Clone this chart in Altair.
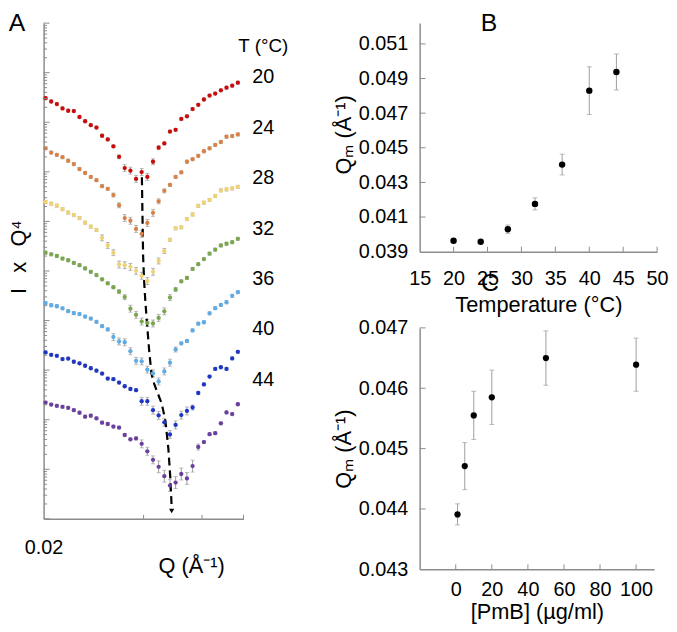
import altair as alt
import pandas as pd

FONT = "Liberation Sans"
AXC = "#8c8c8c"
ERRC = "#9e9e9e"

# ---------------- Panel A data ----------------
Q_A = [0.02027, 0.02108, 0.02192, 0.02280, 0.02371, 0.02466, 0.02565, 0.02667,
       0.02774, 0.02885, 0.03000, 0.03120, 0.03245, 0.03375, 0.03510, 0.03651,
       0.03797, 0.03948, 0.04106, 0.04271, 0.04441, 0.04619, 0.04804, 0.04996,
       0.05196, 0.05404, 0.05620, 0.05845, 0.06079, 0.06322, 0.06575, 0.06838,
       0.07111, 0.07396, 0.07692]
T_A = ["20", "24", "28", "32", "36", "40", "44"]
COL_A = ["#cc0a0a", "#d8824a", "#f0d274", "#7aa64f", "#5eabe6", "#1f36c4", "#6a3f9e"]

# log10 of I x Q^4 (curves offset by about one decade each)
LOG_20 = [8.485, 8.419, 8.366, 8.280, 8.232, 8.226, 8.106, 8.021, 7.941, 7.893,
          7.728, 7.654, 7.514, 7.303, 7.076, 7.024, 6.857, 6.996, 6.897, 7.204,
          7.488, 7.574, 7.813, 7.847, 8.067, 8.120, 8.266, 8.352, 8.459, 8.539,
          8.579, 8.645, 8.698, 8.738, 8.798]
LOG_24 = [7.475, 7.389, 7.343, 7.295, 7.224, 7.156, 7.056, 6.976, 6.897, 6.831,
          6.711, 6.657, 6.532, 6.326, 6.067, 6.013, 5.848, 5.748, 5.968, 6.173,
          6.406, 6.617, 6.737, 6.897, 6.990, 7.204, 7.255, 7.323, 7.415, 7.475,
          7.542, 7.602, 7.708, 7.722, 7.754]
LOG_28 = [6.392, 6.358, 6.318, 6.247, 6.179, 6.127, 6.067, 5.974, 5.894, 5.828,
          5.669, 5.515, 5.370, 5.131, 5.117, 5.083, 5.003, 4.903, 4.798, 4.983,
          5.202, 5.402, 5.629, 5.860, 5.880, 6.047, 6.139, 6.313, 6.378, 6.432,
          6.512, 6.626, 6.645, 6.665, 6.697]
LOG_32 = [5.370, 5.336, 5.302, 5.250, 5.216, 5.162, 5.117, 5.051, 4.983, 4.917,
          4.832, 4.752, 4.672, 4.584, 4.473, 4.240, 4.116, 3.980, 3.951, 3.941,
          4.054, 4.186, 4.463, 4.628, 4.792, 4.861, 5.041, 5.137, 5.240, 5.350,
          5.430, 5.515, 5.549, 5.581, 5.649]
LOG_36 = [4.353, 4.309, 4.289, 4.246, 4.190, 4.150, 4.130, 4.080, 4.040, 3.974,
          3.887, 3.821, 3.668, 3.578, 3.562, 3.382, 3.187, 3.177, 3.010, 2.934,
          2.771, 2.974, 3.151, 3.416, 3.540, 3.588, 3.801, 3.937, 3.966, 4.146,
          4.250, 4.315, 4.369, 4.499, 4.572]
LOG_40 = [3.357, 3.309, 3.289, 3.223, 3.233, 3.169, 3.137, 3.089, 3.038, 2.990,
          2.930, 2.830, 2.818, 2.749, 2.675, 2.619, 2.595, 2.372, 2.372, 2.193,
          2.087, 1.947, 1.702, 1.894, 2.093, 2.177, 2.246, 2.539, 2.711, 2.870,
          3.024, 3.058, 3.024, 3.237, 3.369]
LOG_44 = [2.346, 2.306, 2.280, 2.260, 2.240, 2.193, 2.141, 2.061, 2.081, 2.027,
          1.941, 1.913, 1.862, 1.842, 1.692, 1.605, 1.622, 1.513, 1.363, 1.190,
          1.050, 0.861, 0.672, 0.732, 0.905, 0.815, 1.064, 1.449, 1.549, 1.708,
          1.728, 1.927, 2.147, 2.113, 2.312]

# error half-widths, in decades
ERR_20 = [0.03, 0.03, 0.03, 0.03, 0.03, 0.03, 0.03, 0.03, 0.03, 0.03, 0.03, 0.03,
          0.03, 0.04, 0.07, 0.07, 0.07, 0.07, 0.07, 0.06, 0.04, 0.03, 0.03, 0.03,
          0.03, 0.03, 0.03, 0.03, 0.03, 0.03, 0.03, 0.03, 0.03, 0.03, 0.03]
ERR_24 = [0.03, 0.03, 0.03, 0.03, 0.03, 0.03, 0.03, 0.03, 0.03, 0.03, 0.03, 0.03,
          0.04, 0.05, 0.07, 0.07, 0.07, 0.07, 0.07, 0.07, 0.05, 0.04, 0.03, 0.03,
          0.03, 0.03, 0.03, 0.03, 0.03, 0.03, 0.03, 0.03, 0.03, 0.03, 0.03]
ERR_28 = [0.03, 0.03, 0.03, 0.03, 0.03, 0.03, 0.03, 0.03, 0.03, 0.03, 0.06, 0.06,
          0.06, 0.07, 0.07, 0.07, 0.07, 0.07, 0.07, 0.07, 0.06, 0.05, 0.03, 0.03,
          0.03, 0.03, 0.03, 0.03, 0.03, 0.03, 0.03, 0.03, 0.03, 0.03, 0.03]
ERR_32 = [0.03, 0.03, 0.03, 0.03, 0.03, 0.03, 0.03, 0.03, 0.03, 0.03, 0.03, 0.03,
          0.03, 0.04, 0.05, 0.07, 0.07, 0.07, 0.07, 0.07, 0.07, 0.07, 0.06, 0.04,
          0.03, 0.03, 0.03, 0.03, 0.03, 0.03, 0.03, 0.03, 0.03, 0.03, 0.03]
ERR_36 = [0.03, 0.03, 0.03, 0.03, 0.03, 0.03, 0.03, 0.03, 0.03, 0.03, 0.03, 0.03,
          0.07, 0.07, 0.07, 0.07, 0.07, 0.07, 0.07, 0.07, 0.07, 0.07, 0.07, 0.05,
          0.03, 0.03, 0.03, 0.03, 0.03, 0.03, 0.03, 0.03, 0.03, 0.03, 0.03]
ERR_40 = [0.03, 0.03, 0.03, 0.03, 0.03, 0.03, 0.03, 0.03, 0.03, 0.03, 0.03, 0.03,
          0.03, 0.03, 0.03, 0.03, 0.03, 0.08, 0.08, 0.08, 0.08, 0.08, 0.08, 0.08,
          0.08, 0.08, 0.05, 0.03, 0.03, 0.03, 0.03, 0.03, 0.03, 0.03, 0.03]
ERR_44 = [0.03, 0.03, 0.03, 0.03, 0.03, 0.03, 0.03, 0.03, 0.03, 0.03, 0.03, 0.03,
          0.03, 0.03, 0.03, 0.03, 0.03, 0.08, 0.08, 0.08, 0.12, 0.12, 0.12, 0.12,
          0.12, 0.12, 0.12, 0.06, 0.03, 0.03, 0.03, 0.03, 0.03, 0.03, 0.03]

LOGS = [LOG_20, LOG_24, LOG_28, LOG_32, LOG_36, LOG_40, LOG_44]
ERRS = [ERR_20, ERR_24, ERR_28, ERR_32, ERR_36, ERR_40, ERR_44]

# temperature labels at the right side (decades)
LABEL_LOG = [8.904, 7.887, 6.871, 5.854, 4.838, 3.821, 2.805]

# dashed guide line through the minima
DASH_Q = [0.03954, 0.03987, 0.04014, 0.04047, 0.04092, 0.04160, 0.04226,
          0.04314, 0.04536, 0.04652, 0.04749, 0.04815, 0.04858]
DASH_LOG = [6.891, 5.316, 4.818, 4.419, 3.980, 3.382, 2.924,
            2.705, 2.326, 1.987, 1.429, 0.831, 0.273]
ARROW_Q = [0.04860]
ARROW_LOG = [0.16]

# ---------------- Panel B data ----------------
T_B = [20, 24, 28, 32, 36, 40, 44]
QM_B = [0.03963, 0.03957, 0.04030, 0.04176, 0.04403, 0.04830, 0.04938]
ERR_B = [0.00012, 0.00006, 0.00024, 0.00035, 0.00060, 0.00138, 0.00104]

# ---------------- Panel C data ----------------
PMB_C = [1, 5, 10, 20, 50, 100]
QM_C = [0.04391, 0.04471, 0.04555, 0.04585, 0.04650, 0.04639]
ERR_C = [0.000175, 0.00039, 0.00040, 0.00045, 0.00045, 0.00044]

# ================= panel A =================
rows = []
for t, logs, errs in zip(T_A, LOGS, ERRS):
    for q, v, e in zip(Q_A, logs, errs):
        rows.append({"q": q, "temp": t, "iq4": 10 ** v,
                     "lo": 10 ** (v - e), "hi": 10 ** (v + e)})
dfA = pd.DataFrame(rows)

WA, HA = 202, 501
xsA = alt.Scale(type="log", domain=[0.02, 0.08], nice=False)
ysA = alt.Scale(type="log", domain=[1, 1e10], nice=False)

axAx = alt.Axis(values=[0.02, 0.04, 0.06, 0.08], labelExpr="datum.index == 0 ? '0.02' : ''",
                ticks=False, tickSize=0, labelPadding=19, labelFontSize=20, labelFlush=False,
                labelOverlap=False, title="Q (Å⁻¹)", titleFontSize=22, titleX=149, titleY=54,
                titleBaseline="alphabetic", titleAlign="center", grid=False)
axAy = alt.Axis(ticks=False, labels=False, tickSize=0,
                title="I\u2002\u2009x\u2002\u2009Q⁴", titleFontSize=22,
                titleAngle=270, titleX=-18, titleY=236, titleAlign="center",
                titleBaseline="alphabetic", grid=False)


def XA(f):
    return alt.X(f, scale=xsA, axis=axAx)


def YA(f):
    return alt.Y(f, scale=ysA, axis=axAy)


baseA = alt.Chart(dfA)
errA = baseA.mark_rule(color=ERRC, strokeWidth=1).encode(x=XA("q:Q"), y=YA("lo:Q"), y2="hi:Q")
capLoA = baseA.mark_tick(color=ERRC, thickness=1, size=4, orient="horizontal").encode(
    x=XA("q:Q"), y=YA("lo:Q"))
capHiA = baseA.mark_tick(color=ERRC, thickness=1, size=4, orient="horizontal").encode(
    x=XA("q:Q"), y=YA("hi:Q"))
ptsA = baseA.mark_circle(size=19, opacity=1).encode(
    x=XA("q:Q"), y=YA("iq4:Q"),
    color=alt.Color("temp:N", scale=alt.Scale(domain=T_A, range=COL_A), legend=None))

dfDash = pd.DataFrame({"q": DASH_Q, "iq4": [10 ** v for v in DASH_LOG],
                       "i": list(range(len(DASH_Q)))})
dashA = alt.Chart(dfDash).mark_line(color="black", strokeWidth=2.2, strokeDash=[8, 5]).encode(
    x=XA("q:Q"), y=YA("iq4:Q"), order="i:Q")
dfArrow = pd.DataFrame({"q": ARROW_Q, "iq4": [10 ** v for v in ARROW_LOG]})
arrowA = alt.Chart(dfArrow).mark_point(shape="triangle-down", filled=True, color="black",
                                       size=28, opacity=1).encode(x=XA("q:Q"), y=YA("iq4:Q"))

dfLab = pd.DataFrame({"t": T_A, "iq4": [10 ** v for v in LABEL_LOG]})
labA = alt.Chart(dfLab).mark_text(fontSize=20, align="center", baseline="middle",
                                  color="black").encode(
    x=alt.value(222), y=YA("iq4:Q"), text="t:N")
headA = alt.Chart(pd.DataFrame({"t": ["T (°C)"]})).mark_text(
    fontSize=19, align="center", baseline="middle", color="black").encode(
    x=alt.value(222), y=alt.value(23), text="t:N")
panA = alt.Chart(pd.DataFrame({"t": ["A"]})).mark_text(
    fontSize=25, align="center", baseline="top", color="black").encode(
    x=alt.value(-27), y=alt.value(-12), text="t:N")

majA = pd.DataFrame({"iq4": [10.0 ** n for n in range(0, 11)]})
minA = pd.DataFrame({"iq4": [k * 10.0 ** n for n in range(0, 10) for k in range(2, 10)]})
tickMajA = alt.Chart(majA).mark_rule(color=AXC, strokeWidth=1).encode(
    y=YA("iq4:Q"), x=alt.value(0), x2=alt.value(6))
tickMinA = alt.Chart(minA).mark_rule(color=AXC, strokeWidth=1).encode(
    y=YA("iq4:Q"), x=alt.value(0), x2=alt.value(3.5))
xtA = pd.DataFrame({"q": [0.04, 0.06, 0.08]})
tickXA = alt.Chart(xtA).mark_rule(color=AXC, strokeWidth=1).encode(
    x=XA("q:Q"), y=alt.value(HA), y2=alt.value(HA - 4))

chartA = alt.layer(errA, capLoA, capHiA, dashA, ptsA, arrowA, labA, headA, panA,
                   tickMajA, tickMinA, tickXA).properties(width=WA, height=HA)

# ================= panel B =================
dfB = pd.DataFrame({"t": T_B, "qm": QM_B,
                    "lo": [m - e for m, e in zip(QM_B, ERR_B)],
                    "hi": [m + e for m, e in zip(QM_B, ERR_B)]})
WB, HB = 240, 231
xsB = alt.Scale(domain=[15, 50], nice=False)
ysB = alt.Scale(domain=[0.039, 0.0522], nice=False, zero=False)
axBx = alt.Axis(values=[15, 20, 25, 30, 35, 40, 45, 50], ticks=False, tickSize=0,
                labelPadding=17, labelFontSize=20, labelFlush=False, labelOverlap=False,
                title="Temperature (°C)", titleFontSize=22, titleX=WB / 2, titleY=60,
                titleBaseline="alphabetic", titleAlign="center", grid=False)
axBy = alt.Axis(values=[0.039, 0.041, 0.043, 0.045, 0.047, 0.049, 0.051], format=".3f",
                ticks=False, tickSize=0, labelPadding=12, labelFontSize=20, labelOverlap=False,
                title="Qₘ (Å⁻¹)", titleFontSize=22, titleAngle=270, titleX=-70,
                titleY=HB / 2 - 3, titleAlign="center", titleBaseline="alphabetic", grid=False)


def XB(f):
    return alt.X(f, scale=xsB, axis=axBx)


def YB(f):
    return alt.Y(f, scale=ysB, axis=axBy)


baseB = alt.Chart(dfB)
errB = baseB.mark_rule(color=ERRC, strokeWidth=1).encode(x=XB("t:Q"), y=YB("lo:Q"), y2="hi:Q")
capLoB = baseB.mark_tick(color=ERRC, thickness=1, size=5, orient="horizontal").encode(
    x=XB("t:Q"), y=YB("lo:Q"))
capHiB = baseB.mark_tick(color=ERRC, thickness=1, size=5, orient="horizontal").encode(
    x=XB("t:Q"), y=YB("hi:Q"))
ptsB = baseB.mark_circle(size=42, color="black", opacity=1).encode(x=XB("t:Q"), y=YB("qm:Q"))
ytB = pd.DataFrame({"qm": [0.041, 0.043, 0.045, 0.047, 0.049, 0.051]})
tickYB = alt.Chart(ytB).mark_rule(color=AXC, strokeWidth=1).encode(
    y=YB("qm:Q"), x=alt.value(0), x2=alt.value(6))
xtB = pd.DataFrame({"t": [20, 25, 30, 35, 40, 45, 50]})
tickXB = alt.Chart(xtB).mark_rule(color=AXC, strokeWidth=1).encode(
    x=XB("t:Q"), y=alt.value(HB), y2=alt.value(HB - 5))
panB = alt.Chart(pd.DataFrame({"t": ["B"]})).mark_text(
    fontSize=25, align="center", baseline="top", color="black").encode(
    x=alt.value(70), y=alt.value(-12), text="t:N")
chartB = alt.layer(errB, capLoB, capHiB, ptsB, tickYB, tickXB, panB).properties(
    width=WB, height=HB)

# ================= panel C =================
dfC = pd.DataFrame({"p": PMB_C, "qm": QM_C,
                    "lo": [m - e for m, e in zip(QM_C, ERR_C)],
                    "hi": [m + e for m, e in zip(QM_C, ERR_C)]})
WC, HC = 237, 244
xsC = alt.Scale(domain=[-20, 110], nice=False, zero=False)
ysC = alt.Scale(domain=[0.043, 0.047], nice=False, zero=False)
axCx = alt.Axis(values=[0, 20, 40, 60, 80, 100], ticks=False, tickSize=0,
                labelPadding=10, labelFontSize=20, labelFlush=False, labelOverlap=False,
                title="[PmB] (µg/ml)", titleFontSize=22, titleX=WC / 2, titleY=50,
                titleBaseline="alphabetic", titleAlign="center", grid=False)
axCy = alt.Axis(values=[0.043, 0.044, 0.045, 0.046, 0.047], format=".3f",
                ticks=False, tickSize=0, labelPadding=12, labelFontSize=20, labelOverlap=False,
                title="Qₘ (Å⁻¹)", titleFontSize=22, titleAngle=270, titleX=-70,
                titleY=HC / 2, titleAlign="center", titleBaseline="alphabetic", grid=False)


def XC(f):
    return alt.X(f, scale=xsC, axis=axCx)


def YC(f):
    return alt.Y(f, scale=ysC, axis=axCy)


baseC = alt.Chart(dfC)
errC = baseC.mark_rule(color=ERRC, strokeWidth=1).encode(x=XC("p:Q"), y=YC("lo:Q"), y2="hi:Q")
capLoC = baseC.mark_tick(color=ERRC, thickness=1, size=5, orient="horizontal").encode(
    x=XC("p:Q"), y=YC("lo:Q"))
capHiC = baseC.mark_tick(color=ERRC, thickness=1, size=5, orient="horizontal").encode(
    x=XC("p:Q"), y=YC("hi:Q"))
ptsC = baseC.mark_circle(size=40, color="black", opacity=1).encode(x=XC("p:Q"), y=YC("qm:Q"))
ytC = pd.DataFrame({"qm": [0.044, 0.045, 0.046, 0.047]})
tickYC = alt.Chart(ytC).mark_rule(color=AXC, strokeWidth=1).encode(
    y=YC("qm:Q"), x=alt.value(0), x2=alt.value(6))
xtC = pd.DataFrame({"p": [0, 20, 40, 60, 80, 100]})
tickXC = alt.Chart(xtC).mark_rule(color=AXC, strokeWidth=1).encode(
    x=XC("p:Q"), y=alt.value(HC), y2=alt.value(HC - 5))
panC = alt.Chart(pd.DataFrame({"t": ["C"]})).mark_text(
    fontSize=25, align="center", baseline="middle", color="black").encode(
    x=alt.value(71), y=alt.value(-45), text="t:N")
chartC = alt.layer(errC, capLoC, capHiC, ptsC, tickYC, tickXC, panC).properties(
    width=WC, height=HC)

right = alt.vconcat(chartB, chartC, spacing=77, bounds="flush")
chart = alt.hconcat(chartA, right, spacing=178, bounds="flush").properties(
    padding={"left": 0, "top": 0, "right": 0, "bottom": 0}
).configure_axis(
    labelFont=FONT, titleFont=FONT, labelColor="black", titleColor="black",
    titleFontWeight="normal", domainColor=AXC, domainWidth=1.5, grid=False
).configure_text(font=FONT).configure_view(stroke=None)

chart.save("out.html", embed_options={"renderer": "svg", "actions": False})
